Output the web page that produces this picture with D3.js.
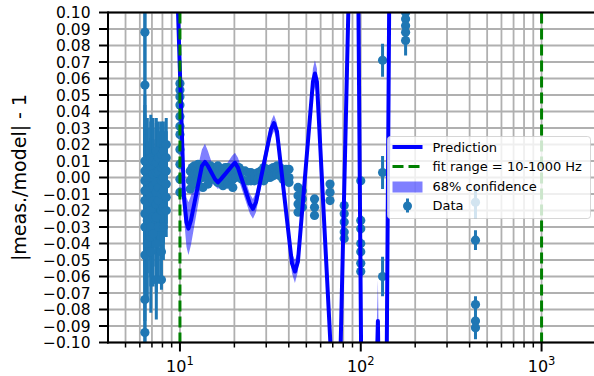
<!doctype html>
<html lang="en">
<head>
<meta charset="utf-8">
<title>meas/model residuals</title>
<style>
  body { margin: 0; background: #fff; }
  svg { display: block; font-family: "DejaVu Sans", sans-serif; }
</style>
</head>
<body>
<svg id="chart"></svg>
<script src="https://cdn.jsdelivr.net/npm/d3@7"></script>
<script>
// data: [frequency Hz, |meas/model| - 1, error]
const dataPoints = [
  [6.4, 0.088, 0.03], [6.4, 0.056, 0.045], [6.4, 0.010, 0.04], [6.4, 0.004, 0.04], [6.4, -0.002, 0.04],
  [6.4, -0.008, 0.04], [6.4, -0.014, 0.04], [6.4, -0.022, 0.04], [6.4, -0.030, 0.04], [6.4, -0.047, 0.04],
  [6.4, -0.074, 0.03], [6.4, -0.094, 0.02],
  [6.6, 0.008, 0.028], [6.6, 0.0, 0.03], [6.6, -0.008, 0.03], [6.6, -0.016, 0.03], [6.6, -0.026, 0.032],
  [6.6, -0.040, 0.035],
  [6.9, 0.012, 0.026], [6.9, 0.006, 0.028], [6.9, 0.0, 0.03], [6.9, -0.006, 0.03], [6.9, -0.012, 0.03],
  [6.9, -0.020, 0.03], [6.9, -0.030, 0.03], [6.9, -0.036, 0.03], [6.9, -0.045, 0.037],
  [7.1, 0.010, 0.026], [7.1, 0.002, 0.028], [7.1, -0.005, 0.028], [7.1, -0.014, 0.03], [7.1, -0.024, 0.03],
  [7.1, -0.034, 0.032],
  [7.4, 0.016, 0.02], [7.4, 0.009, 0.024], [7.4, 0.003, 0.026], [7.4, -0.003, 0.026], [7.4, -0.009, 0.026],
  [7.4, -0.016, 0.026], [7.4, -0.024, 0.03], [7.4, -0.040, 0.03], [7.4, -0.062, 0.024],
  [7.6, 0.012, 0.022], [7.6, 0.004, 0.024], [7.6, -0.006, 0.024], [7.6, -0.014, 0.026], [7.6, -0.030, 0.03],
  [7.9, 0.014, 0.02], [7.9, 0.006, 0.022], [7.9, -0.002, 0.022], [7.9, -0.010, 0.022], [7.9, -0.020, 0.024],
  [7.9, -0.045, 0.02], [7.9, -0.062, 0.006],
  [8.1, 0.016, 0.018], [8.1, 0.008, 0.02], [8.1, 0.0, 0.02], [8.1, -0.008, 0.02], [8.1, -0.018, 0.022],
  [8.1, -0.030, 0.02],
  [8.4, 0.020, 0.016], [8.4, 0.012, 0.016], [8.4, 0.004, 0.016], [8.4, -0.004, 0.016], [8.4, -0.012, 0.016],
  [8.4, -0.020, 0.016],
  [10, 0.057, 0.003], [10, 0.053, 0.003], [10, 0.049, 0.003], [10, 0.044, 0.003], [10, 0.037, 0.003],
  [10, 0.031, 0.003], [10, 0.026, 0.003], [10, 0.017, 0.003], [10, 0.008, 0.003], [10, -0.001, 0.003],
  [10, -0.009, 0.003],
  [11.4, 0.004, 0.002], [11.4, -0.002, 0.002], [11.4, -0.007, 0.002],
  [11.7, 0.006, 0.002], [11.7, 0.0, 0.002],
  [12.0, 0.007, 0.002], [12.0, 0.002, 0.002], [12.0, -0.004, 0.002],
  [12.3, 0.005, 0.002], [12.3, -0.001, 0.002],
  [12.6, 0.008, 0.002], [12.6, 0.003, 0.002], [12.6, -0.002, 0.002],
  [13.0, 0.006, 0.002], [13.0, 0.001, 0.002],
  [13.4, 0.005, 0.002], [13.4, 0.0, 0.002], [13.4, -0.006, 0.002],
  [13.8, 0.007, 0.002], [13.8, 0.002, 0.002],
  [14.3, 0.006, 0.002], [14.3, 0.001, 0.002], [14.3, -0.004, 0.002],
  [14.8, 0.007, 0.002], [14.8, 0.002, 0.002],
  [15.2, 0.004, 0.002], [15.2, -0.001, 0.002],
  [15.7, 0.006, 0.002], [15.7, 0.001, 0.002],
  [16.2, 0.007, 0.002], [16.2, 0.002, 0.002], [16.2, -0.003, 0.002],
  [16.7, 0.005, 0.002], [16.7, 0.0, 0.002],
  [17.3, 0.005, 0.002], [17.3, 0.0, 0.002], [17.3, -0.005, 0.002],
  [17.8, 0.006, 0.002], [17.8, 0.001, 0.002],
  [18.4, 0.006, 0.002], [18.4, 0.001, 0.002], [18.4, -0.004, 0.002],
  [19.0, 0.005, 0.002], [19.0, 0.0, 0.002],
  [19.6, 0.004, 0.002], [19.6, -0.001, 0.002], [19.6, -0.006, 0.002],
  [20.4, 0.005, 0.002], [20.4, 0.0, 0.002],
  [21.2, 0.006, 0.002], [21.2, 0.001, 0.002],
  [22.0, 0.004, 0.002], [22.0, -0.001, 0.002],
  [22.9, 0.004, 0.002], [22.9, -0.002, 0.002],
  [23.8, 0.003, 0.002], [23.8, -0.002, 0.002],
  [24.7, 0.003, 0.002], [24.7, -0.002, 0.002],
  [25.8, 0.002, 0.002], [25.8, -0.002, 0.002],
  [27.0, 0.003, 0.002], [27.0, -0.001, 0.002],
  [28.0, 0.004, 0.002], [28.0, 0.0, 0.002],
  [29.1, 0.006, 0.002], [29.1, 0.001, 0.002], [29.1, -0.002, 0.002],
  [30.3, 0.005, 0.002], [30.3, 0.0, 0.002],
  [31.5, 0.005, 0.002], [31.5, 0.0, 0.002],
  [32.8, 0.006, 0.002], [32.8, 0.001, 0.002],
  [34.4, 0.007, 0.002], [34.4, 0.002, 0.002],
  [35.7, 0.006, 0.002], [35.7, 0.001, 0.002],
  [37.1, 0.004, 0.002], [37.1, -0.001, 0.002],
  [38.6, 0.005, 0.002], [38.6, 0.0, 0.002],
  [40.1, 0.005, 0.002], [40.1, 0.0, 0.002], [40.1, -0.003, 0.002],
  [45, -0.006, 0.002], [45, -0.011, 0.002], [45, -0.016, 0.002], [45, -0.021, 0.002],
  [47.5, -0.008, 0.002], [47.5, -0.013, 0.002], [47.5, -0.018, 0.002],
  [55.5, -0.013, 0.002], [55.5, -0.018, 0.002], [55.5, -0.023, 0.002],
  [67.6, -0.004, 0.002], [67.6, -0.009, 0.002], [67.6, -0.014, 0.002],
  [81, -0.017, 0.002], [81, -0.022, 0.002], [81, -0.027, 0.002], [81, -0.033, 0.002], [81, -0.037, 0.002],
  [100, -0.002, 0.002], [100, -0.026, 0.003], [100, -0.031, 0.003], [100, -0.040, 0.003],
  [100, -0.045, 0.003], [100, -0.052, 0.003], [100, -0.057, 0.003],
  [132, 0.071, 0.01], [132, 0.003, 0.01], [132, -0.060, 0.012],
  [177, 0.100, 0.007], [177, 0.096, 0.007], [177, 0.092, 0.007], [177, 0.088, 0.007], [177, 0.083, 0.009],
  [431, -0.015, 0.01], [431, -0.038, 0.006], [431, -0.077, 0.005], [431, -0.087, 0.006], [431, -0.091, 0.007]
];

// prediction curve and 68% half-width
const predFreq = [9.63, 10.52, 10.86, 11.14, 11.50, 13.23, 13.75, 14.28, 15.62, 16.22, 16.86,
                  19.39, 20.15, 20.93, 24.38, 25.33, 26.32, 31.86, 33.09, 34.39, 41.63, 43.24, 44.92,
                  54.38, 55.79, 57.22, 70.15, 73.8, 94.0, 105.4, 124.4, 134.3, 154.5, 1000, 2000];
const predVal  = [0.12, -0.012, -0.027, -0.031, -0.026, 0.007, 0.0095, 0.007, -0.001, -0.003, -0.001,
                  0.007, 0.009, 0.006, -0.016, -0.019, -0.015, 0.029, 0.033, 0.028, -0.052, -0.057, -0.051,
                  0.058, 0.063, 0.058, -0.13, -0.2, 0.3, -0.4, -0.087, -0.35, 0.6, 1.0, 1.0];
const predBand = [0.01, 0.012, 0.015, 0.016, 0.015, 0.01, 0.011, 0.009, 0.004, 0.004, 0.004,
                  0.006, 0.006, 0.006, 0.006, 0.006, 0.006, 0.005, 0.005, 0.005, 0.006, 0.007, 0.006,
                  0.008, 0.008, 0.008, 0.01, 0.01, 0.02, 0.02, 0.025, 0.02, 0.03, 0.05, 0.05];

const fitRange = [10, 1000];
const yTicks = d3.range(-10, 11).map(d => d / 100);
const xMajor = [10, 100, 1000];
const xMinor = [4, 5, 6, 7, 8, 9, 20, 30, 40, 50, 60, 70, 80, 90,
                200, 300, 400, 500, 600, 700, 800, 900, 2000];

let width = 594, height = 376;
let mLeft = 108, mRight = 596, mTop = 12.5, mBottom = 342.5;

let svg = d3.select("#chart")
    .attr("width", width)
    .attr("height", height);

let x = d3.scaleLog().domain([4, 2000]).range([mLeft, mRight]);
let y = d3.scaleLinear().domain([-0.1, 0.1]).range([mBottom, mTop]);

svg.append("defs").append("clipPath").attr("id", "clip")
  .append("rect")
    .attr("x", mLeft).attr("y", mTop)
    .attr("width", mRight - mLeft).attr("height", mBottom - mTop);

// grid
let grid = svg.append("g").attr("stroke", "#b0b0b0").attr("stroke-width", 1.8);
grid.selectAll(".gx")
  .data(xMajor.concat(xMinor))
  .enter().append("line")
    .attr("x1", d => x(d)).attr("x2", d => x(d))
    .attr("y1", mTop).attr("y2", mBottom);
grid.selectAll(".gy")
  .data(yTicks)
  .enter().append("line")
    .attr("x1", mLeft).attr("x2", mRight)
    .attr("y1", d => y(d)).attr("y2", d => y(d));

let plot = svg.append("g").attr("clip-path", "url(#clip)");

let pred = predFreq.map((f, i) => ({f: f, v: predVal[i], e: predBand[i]}));

plot.append("path")
    .datum(pred)
    .attr("fill", "blue")
    .attr("fill-opacity", 0.5)
    .attr("d", d3.area()
      .x(d => x(d.f))
      .y0(d => y(d.v - d.e))
      .y1(d => y(d.v + d.e)));

// data with error bars
let pts = plot.append("g").attr("fill", "#1f77b4").attr("stroke", "#1f77b4");
pts.selectAll("line")
  .data(dataPoints)
  .enter().append("line")
    .attr("stroke-width", 3)
    .attr("x1", d => x(d[0])).attr("x2", d => x(d[0]))
    .attr("y1", d => y(d[1] - d[2])).attr("y2", d => y(d[1] + d[2]));
pts.selectAll("circle")
  .data(dataPoints)
  .enter().append("circle")
    .attr("stroke", "none")
    .attr("r", 4.6)
    .attr("cx", d => x(d[0])).attr("cy", d => y(d[1]));

plot.append("path")
    .datum(pred)
    .attr("fill", "none")
    .attr("stroke", "blue")
    .attr("stroke-width", 4)
    .attr("stroke-linejoin", "round")
    .attr("d", d3.line().x(d => x(d.f)).y(d => y(d.v)));

// fit range lines
plot.selectAll(".fit")
  .data(fitRange)
  .enter().append("line")
    .attr("stroke", "green")
    .attr("stroke-width", 3)
    .attr("stroke-dasharray", "11,5")
    .attr("x1", d => x(d)).attr("x2", d => x(d))
    .attr("y1", mTop).attr("y2", mBottom);

// spines
let axes = svg.append("g").attr("stroke", "black");
axes.append("line").attr("stroke-width", 2).attr("x1", mLeft).attr("x2", mLeft).attr("y1", mTop - 1).attr("y2", mBottom + 1);
axes.append("line").attr("stroke-width", 2).attr("x1", mLeft).attr("x2", mRight).attr("y1", mTop).attr("y2", mTop);
axes.append("line").attr("stroke-width", 2).attr("x1", mLeft - 1).attr("x2", mRight).attr("y1", mBottom).attr("y2", mBottom);

// y ticks
axes.selectAll(".ty")
  .data(yTicks)
  .enter().append("line")
    .attr("stroke-width", 2)
    .attr("x1", mLeft - 9).attr("x2", mLeft)
    .attr("y1", d => y(d)).attr("y2", d => y(d));

let fmt = d3.format(".2f");
svg.append("g")
    .attr("font-size", 15.5)
    .attr("text-anchor", "end")
  .selectAll("text")
  .data(yTicks)
  .enter().append("text")
    .attr("x", mLeft - 17.5)
    .attr("y", d => y(d) + 5.6)
    .text(d => fmt(d));

// x ticks
axes.selectAll(".txM")
  .data(xMajor)
  .enter().append("line")
    .attr("stroke-width", 2)
    .attr("x1", d => x(d)).attr("x2", d => x(d))
    .attr("y1", mBottom).attr("y2", mBottom + 9);
axes.selectAll(".txm")
  .data(xMinor.filter(d => d > 4 && d < 2000))
  .enter().append("line")
    .attr("stroke-width", 1.5)
    .attr("x1", d => x(d)).attr("x2", d => x(d))
    .attr("y1", mBottom).attr("y2", mBottom + 5);

let xl = svg.append("g")
    .attr("font-size", 16)
    .attr("text-anchor", "middle")
  .selectAll("text")
  .data(xMajor)
  .enter().append("text")
    .attr("x", d => x(d))
    .attr("y", 372);
xl.append("tspan").text("10");
xl.append("tspan")
    .attr("dy", -7)
    .attr("font-size", 11.5)
    .text(d => Math.round(Math.log10(d)));

// y label
svg.append("text")
    .attr("transform", "translate(26," + ((mTop + mBottom) / 2) + ") rotate(-90)")
    .attr("text-anchor", "middle")
    .attr("font-size", 19)
    .text("|meas./model| - 1");

// legend
let lg = svg.append("g").attr("transform", "translate(387.5,136.5)");
lg.append("rect")
    .attr("width", 203).attr("height", 82).attr("rx", 3)
    .attr("fill", "white").attr("fill-opacity", 0.8)
    .attr("stroke", "#cccccc").attr("stroke-opacity", 0.8);
lg.append("line")
    .attr("x1", 5).attr("x2", 35).attr("y1", 10.5).attr("y2", 10.5)
    .attr("stroke", "blue").attr("stroke-width", 4);
lg.append("line")
    .attr("x1", 5).attr("x2", 35).attr("y1", 30).attr("y2", 30)
    .attr("stroke", "green").attr("stroke-width", 3).attr("stroke-dasharray", "11,5");
lg.append("rect")
    .attr("x", 5).attr("y", 45).attr("width", 30).attr("height", 11)
    .attr("fill", "blue").attr("fill-opacity", 0.5);
lg.append("line")
    .attr("x1", 20).attr("x2", 20).attr("y1", 62).attr("y2", 76)
    .attr("stroke", "#1f77b4").attr("stroke-width", 3);
lg.append("circle")
    .attr("cx", 20).attr("cy", 69.5).attr("r", 4.5).attr("fill", "#1f77b4");

const legendLabels = ["Prediction", "fit range = 10-1000 Hz", "68% confidence", "Data"];
lg.selectAll(".lt")
  .data(legendLabels)
  .enter().append("text")
    .attr("font-size", 13)
    .attr("x", 45)
    .attr("y", (d, i) => 15 + i * 19.6)
    .text(d => d);
</script>
</body>
</html>
